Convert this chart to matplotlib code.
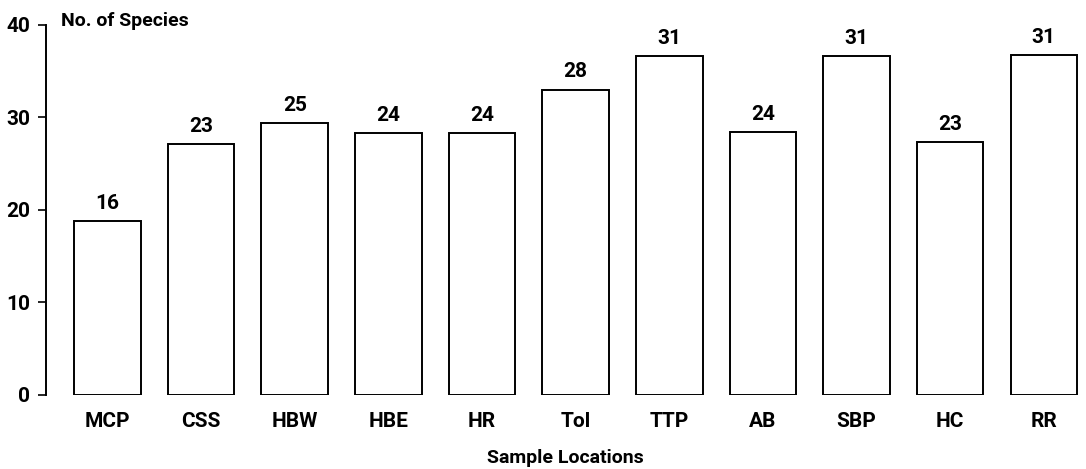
import matplotlib.pyplot as plt

# ------------------------------------
# Data
# ------------------------------------
locations = ['MCP', 'CSS', 'HBW', 'HBE', 'HR', 'Tol', 'TTP', 'AB', 'SBP', 'HC', 'RR']
# bar heights as drawn against the axis
bar_heights = [18.8, 27.1, 29.4, 28.3, 28.3, 33.0, 36.6, 28.4, 36.6, 27.3, 36.7]
# numbers printed above the bars
species_labels = ['16', '23', '25', '24', '24', '28', '31', '24', '31', '23', '31']
y_ticks = [0, 10, 20, 30, 40]

font = dict(family='Roboto', weight='bold')

# ------------------------------------
# Figure
# ------------------------------------
fig = plt.figure(figsize=(10.86, 4.69), dpi=100)
ax = fig.add_axes([0.042, 0.158, 0.958, 0.789])

x = range(len(locations))
bars = ax.bar(x, bar_heights, width=0.71, color='white',
              edgecolor='black', linewidth=1.4)

for bar, lab in zip(bars, species_labels):
    ax.annotate(lab, (bar.get_x() + bar.get_width() / 2, bar.get_height()),
                xytext=(0, 6), textcoords='offset points',
                ha='center', va='bottom', fontsize=15, **font)

ax.set_xlim(-0.66, 10.45)
ax.set_ylim(0, 40)
ax.set_yticks(y_ticks)
ax.set_xticks(list(x))
ax.set_xticklabels(locations, fontsize=15, **font)
ax.set_yticklabels([str(t) for t in y_ticks], fontsize=15, **font)

for s in ['top', 'right', 'bottom']:
    ax.spines[s].set_visible(False)
ax.spines['left'].set_linewidth(1.4)
ax.tick_params(axis='y', length=6, width=1.2, pad=5)
ax.tick_params(axis='x', length=0, pad=12)

ax.text(0.015, 1.01, 'No. of Species', transform=ax.transAxes,
        ha='left', va='center', fontsize=14, **font)
ax.set_xlabel('Sample Locations', fontsize=14, labelpad=13, **font)

fig.savefig('out.png', dpi=100)
